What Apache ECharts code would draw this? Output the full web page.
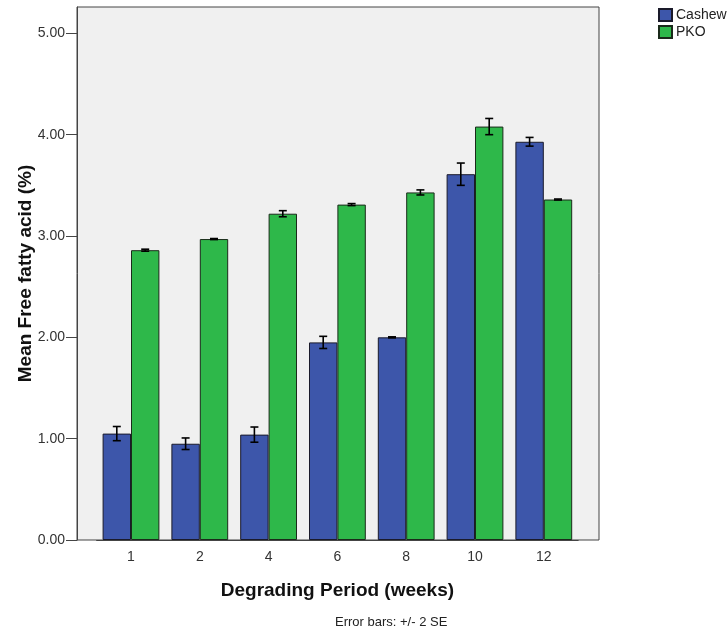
<!DOCTYPE html>
<html><head><meta charset="utf-8">
<script src="https://cdn.jsdelivr.net/npm/echarts@6/dist/echarts.min.js"></script>
<style>html,body{margin:0;padding:0;background:#fff}#c{width:728px;height:635px}</style>
</head><body><div id="c"></div>
<script>
var categories = ['1', '2', '4', '6', '8', '10', '12'];
var cashew = [1.05, 0.95, 1.04, 1.95, 2.00, 3.61, 3.93];
var cashewErr = [0.07, 0.057, 0.075, 0.06, 0.005, 0.11, 0.043];
var pko = [2.86, 2.97, 3.22, 3.31, 3.43, 4.08, 3.36];
var pkoErr = [0.01, 0.005, 0.03, 0.01, 0.025, 0.08, 0.005];
var yTickValues = [0, 1, 2, 3, 4, 5];
var yTickLabels = ['0.00', '1.00', '2.00', '3.00', '4.00', '5.00'];

var FONT = 'Liberation Sans, Arial, sans-serif';
var BAR_W = 28.4;
var chart = echarts.init(document.getElementById('c'));

function errSeries(name, vals, errs, offset) {
  return {
    type: 'custom', name: name + ' err', xAxisIndex: 1, yAxisIndex: 1, z: 10, silent: true,
    data: vals.map(function (v, i) { return [i, v - errs[i], v + errs[i]]; }),
    renderItem: function (params, api) {
      var lo = api.coord([api.value(0), api.value(1)]);
      var hi = api.coord([api.value(0), api.value(2)]);
      var x = lo[0] + offset;
      var cap = 4;
      var st = { stroke: '#000', lineWidth: 1.6 };
      return { type: 'group', children: [
        { type: 'line', shape: { x1: x, y1: lo[1], x2: x, y2: hi[1] }, style: st },
        { type: 'line', shape: { x1: x - cap, y1: lo[1], x2: x + cap, y2: lo[1] }, style: st },
        { type: 'line', shape: { x1: x - cap, y1: hi[1], x2: x + cap, y2: hi[1] }, style: st }
      ] };
    }
  };
}

chart.setOption({
  animation: false,
  textStyle: { fontFamily: FONT },
  grid: [
    { left: 77, right: 129, top: 7, bottom: 95, show: true, backgroundColor: '#f0f0f0', borderColor: '#444', borderWidth: 1 },
    { left: 96.6, width: 481.6, top: 7, bottom: 95 }
  ],
  legend: {
    orient: 'vertical', left: 653, top: 3, itemGap: 3, itemWidth: 13, itemHeight: 12,
    icon: 'rect', data: ['Cashew', 'PKO'],
    textStyle: { fontSize: 14, color: '#222', fontFamily: FONT, padding: [0, 0, 0, -1] }
  },
  xAxis: [
    { gridIndex: 0, type: 'value', min: 0, max: 1, show: false },
    { gridIndex: 1, type: 'category', data: categories,
      axisLine: { show: true, lineStyle: { color: '#444' } },
      axisTick: { alignWithLabel: true, length: 8, lineStyle: { color: '#444' } },
      axisLabel: { fontSize: 14, color: '#333', margin: 10 },
      name: 'Degrading Period (weeks)', nameLocation: 'middle', nameGap: 41, nameMoveOverlap: false,
      nameTextStyle: { fontSize: 19, fontWeight: 'bold', color: '#111' } }
  ],
  yAxis: [
    { gridIndex: 0, type: 'value', min: 0, max: 5.26, interval: 1,
      axisLine: { show: true, lineStyle: { color: '#444' } },
      axisTick: { show: true, length: 11, customValues: yTickValues, lineStyle: { color: '#444' } },
      splitLine: { show: false },
      axisLabel: { fontSize: 14, color: '#333', margin: 12, customValues: yTickValues,
        formatter: function (v) { var k = yTickValues.indexOf(Math.round(v)); return Math.abs(v - Math.round(v)) < 1e-6 && k >= 0 ? yTickLabels[k] : ''; } },
      name: 'Mean Free fatty acid (%)', nameLocation: 'middle', nameGap: 42, nameMoveOverlap: false,
      nameTextStyle: { fontSize: 19, fontWeight: 'bold', color: '#111' } },
    { gridIndex: 1, type: 'value', min: 0, max: 5.26, show: false }
  ],
  series: [
    { name: 'Cashew', type: 'bar', xAxisIndex: 1, yAxisIndex: 1, data: cashew, barWidth: BAR_W, barGap: '0%',
      itemStyle: { color: '#3d56aa', borderColor: '#1a1a2a', borderWidth: 1 } },
    { name: 'PKO', type: 'bar', xAxisIndex: 1, yAxisIndex: 1, data: pko, barWidth: BAR_W, barGap: '0%',
      itemStyle: { color: '#2eb84a', borderColor: '#1a2a1a', borderWidth: 1 } },
    errSeries('Cashew', cashew, cashewErr, -BAR_W / 2),
    errSeries('PKO', pko, pkoErr, BAR_W / 2)
  ],
  graphic: [
    { type: 'text', left: 335, top: 616, style: { text: 'Error bars: +/- 2 SE', fontSize: 13, fill: '#222', fontFamily: FONT } }
  ]
});
</script></body></html>
